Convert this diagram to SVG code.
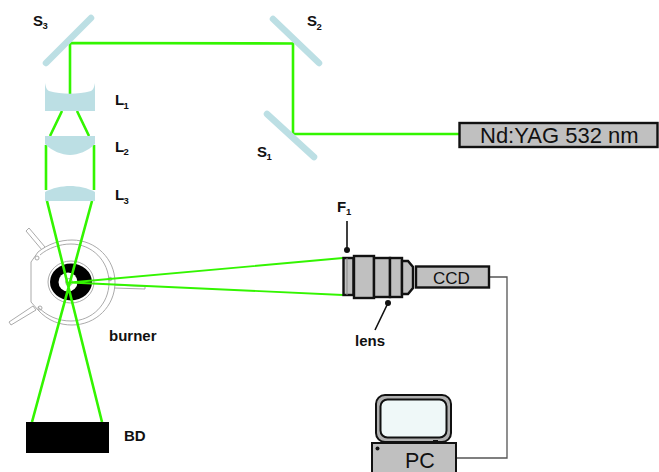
<svg xmlns="http://www.w3.org/2000/svg" width="659" height="472" viewBox="0 0 659 472">
<style>
text{font-family:"Liberation Sans",Arial,sans-serif;fill:#111}
.lb{font-size:15px;font-weight:bold}
.sub{font-size:9.500px;font-weight:bold}
.mir{stroke:#bcdfe4;stroke-width:6.500;stroke-linecap:round;fill:none}
.lens{fill:#bcdfe4}
.beam{stroke:#33f500;stroke-width:2.600;fill:none}
.thin{stroke:#33f500;stroke-width:1.800;fill:none}
.box{fill:#c0c0c0;stroke:#111;stroke-width:2.400}
.w{fill:none;stroke:#a0a0a0;stroke-width:.9}
.wf{fill:#fff;stroke:#a0a0a0;stroke-width:.9}
.wire{fill:none;stroke:#555;stroke-width:1.300}
.lead{stroke:#111;stroke-width:1.600;fill:none}
</style>
<rect width="659" height="472" fill="#fff"/>
<g id="burner">
<path class="wf" d="M45 247L29 228L26 231L42 250Z"/>
<path class="wf" d="M33 306L9 322L11 325L36 310Z"/>
<path class="wf" d="M114 285L145 286.500V289L114 288Z"/>
<path class="wf" d="M31 262L38 252C48 244 60 240 72 240C96 240 115 259 115 282.500C115 306 96 325 72 325C60 325 48 321 38 310L31 302Z"/>
<path class="w" d="M40 255C48 248 60 244 71 244C92 244 109 261 109 282.500C109 304 92 321 71 321C58 321 47 316 38 307"/>
<circle class="w" cx="37" cy="258" r="2"/><circle class="w" cx="40" cy="308" r="2"/><circle class="w" cx="110" cy="279" r="1.800"/>
<ellipse class="wf" cx="71" cy="282" rx="23" ry="21"/>
<ellipse cx="71" cy="282" rx="21" ry="18.500" fill="#000"/>
<circle cx="68" cy="282" r="9.500" fill="#fff"/>
<circle cx="69" cy="282" r="3.500" class="wf"/>
<text class="lb" x="109" y="341">burner</text>
</g>
<g id="connectors">
<path class="beam" d="M460 134H293V43.500L70 43V94"/>
<path class="beam" d="M62 111L50 136M77 111L89 136M46 145V190M94 145V190M47 201L102 422M92 201L32 422"/>
<path class="thin" d="M70 282.500L343 258M70 282.500L343 295"/>
<path class="wire" d="M489 277H507V458H457"/>
<path class="lead" d="M347 250V221M388 303L375 330"/>
<circle cx="347" cy="250" r="3" fill="#111"/><circle cx="388" cy="303" r="3" fill="#111"/>
</g>
<g id="S3"><path class="mir" d="M46 63L91 18"/><text class="lb" x="33" y="26">S</text><text class="sub" x="42.500" y="29">3</text></g>
<g id="S2"><path class="mir" d="M273 19L319 63"/><text class="lb" x="307" y="26">S</text><text class="sub" x="316.500" y="30">2</text></g>
<g id="S1"><path class="mir" d="M267 114L314 157"/><text class="lb" x="257" y="157">S</text><text class="sub" x="266.500" y="160">1</text></g>
<g id="L1"><path class="lens" d="M45 83C46 88 47 90 49 91C62 94.500 78 94.500 91 91C93 90 94 88 95 83V111H45Z"/><text class="lb" x="115" y="105">L</text><text class="sub" x="123.500" y="109">1</text></g>
<g id="L2"><path class="lens" d="M45 136H95V144C88 151 78 155 70 155C62 155 52 151 45 144Z"/><text class="lb" x="115" y="152">L</text><text class="sub" x="123.500" y="155">2</text></g>
<g id="L3"><path class="lens" d="M45 201V192C52 188 62 186 70 186C78 186 88 188 95 192V201Z"/><text class="lb" x="115" y="200">L</text><text class="sub" x="123.500" y="204">3</text></g>
<g id="laser"><rect class="box" x="459.500" y="123" width="198" height="24"/><text x="480" y="143" style="font-size:22px">Nd:YAG 532 nm</text></g>
<g id="lens">
<rect class="box" x="343.500" y="258" width="10" height="37"/>
<path d="M347 258V295" stroke="#888" stroke-width="1" fill="none"/>
<rect class="box" x="354" y="256" width="20" height="42"/>
<rect class="box" x="374" y="258" width="16" height="39"/>
<rect class="box" x="390" y="258" width="12" height="39"/>
<path class="box" d="M402 261H408L413 267V288L408 294H402Z"/>
<text class="lb" x="355" y="346">lens</text>
</g>
<g id="F1"><text class="lb" x="337" y="212">F</text><text class="sub" x="346" y="215">1</text></g>
<g id="CCD"><rect class="box" x="416" y="266.500" width="73" height="21"/><text x="433" y="284" style="font-size:17px">CCD</text></g>
<g id="PC">
<rect x="376" y="395" width="75" height="47" rx="9" fill="#b0b0b0" stroke="#111" stroke-width="2"/>
<rect x="380.500" y="399.500" width="66" height="38" rx="7" fill="#eff8f8" stroke="#111" stroke-width="2"/>
<rect x="372" y="443" width="84" height="30" fill="#c0c0c0" stroke="#111" stroke-width="2"/>
<circle cx="377.500" cy="448.500" r="2" fill="#111"/>
<rect x="433" y="440" width="5" height="3" fill="#111"/>
<text x="405" y="468" style="font-size:21.500px">PC</text>
</g>
<g id="BD"><rect x="26" y="422" width="83" height="31" fill="#000"/><text class="lb" x="124" y="441">BD</text></g>
</svg>
